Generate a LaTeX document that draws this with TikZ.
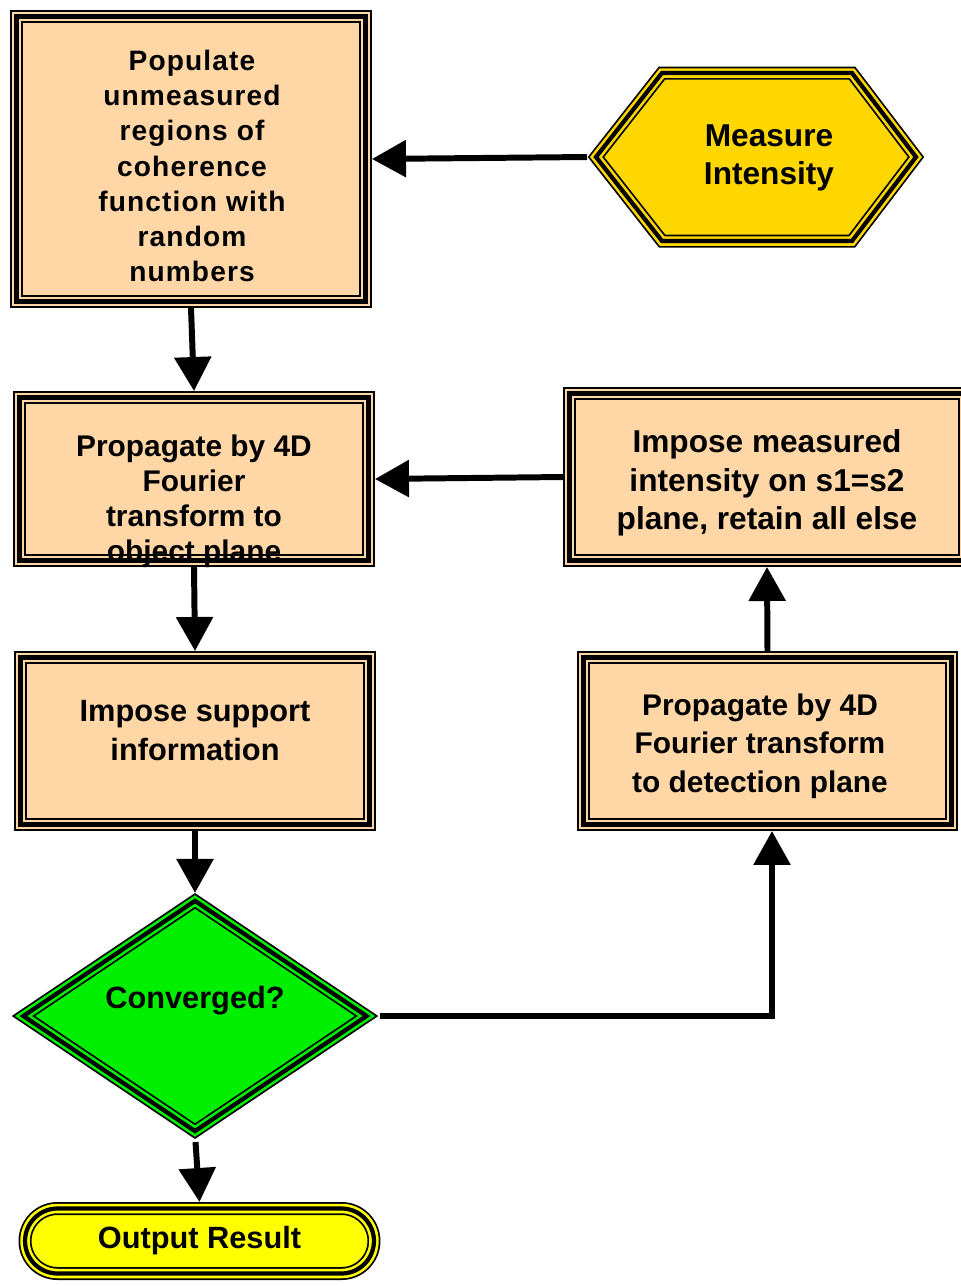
\documentclass[tikz,border=0pt]{standalone}
\usepackage{fontspec}
\setmainfont{Liberation Sans}
\usetikzlibrary{arrows.meta,shapes.geometric}
\definecolor{peach}{HTML}{FFD6A6}
\definecolor{gold}{HTML}{FFD700}
\definecolor{lime}{HTML}{00EE00}
\definecolor{lemon}{HTML}{FFFF00}

\begin{document}
\begin{tikzpicture}[line join=miter,x=0.02cm,y=-0.02cm,
    triple/.style={preaction={fill=#1},preaction={draw=black,line width=7.4pt},
      preaction={draw=#1,line width=5.4pt},draw=black,line width=2.4pt},
    txt/.style={align=center,font=\bfseries\fontsize{17.5}{21.8}\selectfont},
    box/.style={triple=peach,rectangle,minimum width=6.98cm,minimum height=3.34cm,outer sep=3.7pt,txt},
    flow/.style={line width=3.4pt,-{Triangle[width=0.72cm,length=0.68cm]}}]
  \useasboundingbox (0,0) rectangle (961,1286);

  % left column
  \node[box,minimum height=5.7cm] (pop) at (191,159) {};
  \node[txt,font=\bfseries\fontsize{16}{20}\selectfont\addfontfeatures{LetterSpace=4}] (pop-txt) at (192,166)
    {Populate\\unmeasured\\regions of\\coherence\\function with\\random\\numbers};
  \node[box,minimum height=3.26cm] (prop1) at (194,479) {};
  \node[txt,font=\bfseries\fontsize{17}{20}\selectfont] (prop1-txt) at (194,501)
    {Propagate by 4D\\Fourier\\transform to\\object plane};
  \node[box,text depth=12pt] (supp) at (195,741) {Impose support\\information};
  \node[diamond,triple=lime,minimum width=6.9cm,minimum height=4.64cm,inner sep=0pt] (conv) at (195,1016) {};
  \node[txt] (conv-txt) at (195,1001) {Converged?};
  \node[rectangle,triple=lemon,rounded corners=0.65cm,minimum width=6.98cm,minimum height=1.3cm,
    outer sep=3.7pt,txt] (out) at (199.5,1241) {Output Result};

  % right column
  \draw[triple=gold] (596,157) -- (662,73) -- (852,73) -- (916,157) -- (852,241) -- (662,241) -- cycle;
  \coordinate (hex-w) at (587,157);
  \node[txt,font=\bfseries\fontsize{18}{21.8}\selectfont] (meas-int) at (769,158) {Measure\\Intensity};
  \node[box,minimum width=7.9cm] (meas) at (767,477) {};
  \node[txt,font=\bfseries\fontsize{18}{22}\selectfont] (meas-txt) at (767,483)
    {Impose measured\\intensity on s1=s2\\plane, retain all else};
  \node[box,minimum width=7.36cm] (prop2) at (767.5,741) {};
  \node[txt,font=\bfseries\fontsize{17}{22}\selectfont] (prop2-txt) at (760,746)
    {Propagate by 4D\\Fourier transform\\to detection plane};

  % connectors
  \draw[flow] (hex-w) -- (pop.east);
  \draw[flow] (pop.south) -- (prop1.north);
  \draw[flow] (meas.west) -- (prop1.east);
  \draw[flow] (prop1.south) -- (supp.north);
  \draw[flow,shorten >=0.1cm] (supp.south) -- (conv.north);
  \draw[flow,shorten <=0.16cm] (conv.south) -- (out.north);
  \draw[flow,shorten <=0.2cm] (conv.east) -| ([xshift=0.09cm]prop2.south);
  \draw[flow] (prop2.north) -- (meas.south);
\end{tikzpicture}
\end{document}
